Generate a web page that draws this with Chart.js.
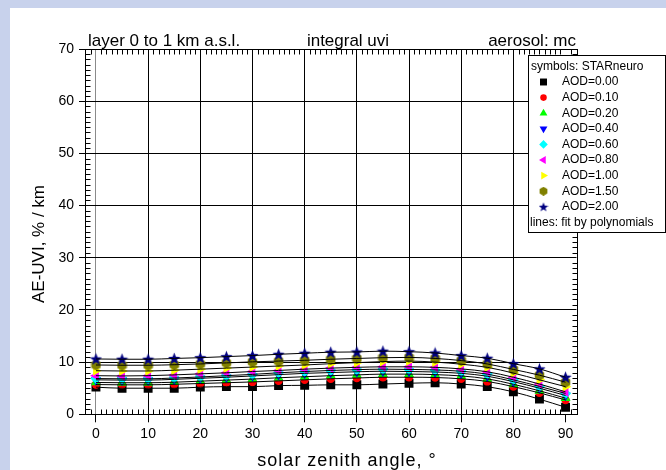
<!DOCTYPE html>
<html>
<head>
<meta charset="utf-8">
<script src="https://cdn.jsdelivr.net/npm/chart.js@4.4.0/dist/chart.umd.min.js"></script>
<style>
  html, body { margin: 0; padding: 0; background: #fff; }
  #wrap { width: 666px; height: 470px; }
</style>
</head>
<body>
<div id="wrap"><canvas id="uvi-chart" width="666" height="470"></canvas></div>
<script>
// solar zenith angle, degrees
const angles = [0, 5, 10, 15, 20, 25, 30, 35, 40, 45, 50, 55, 60, 65, 70, 75, 80, 85, 90];
const xTicks = [0, 10, 20, 30, 40, 50, 60, 70, 80, 90];
const yTicks = [0, 10, 20, 30, 40, 50, 60, 70];

// AE-UVI, % / km for each aerosol optical depth
const aod000 = [5.2, 5.0, 5.0, 5.0, 5.2, 5.3, 5.3, 5.5, 5.55, 5.65, 5.65, 5.8, 5.95, 6.05, 5.8, 5.3, 4.3, 2.9, 1.35];
const aod010 = [5.7, 5.65, 5.65, 5.75, 5.9, 6.05, 6.2, 6.4, 6.6, 6.8, 6.95, 7.1, 7.1, 7.05, 6.8, 6.3, 5.3, 4.1, 2.75];
const aod020 = [6.1, 6.05, 6.05, 6.15, 6.35, 6.55, 6.75, 7.0, 7.2, 7.4, 7.55, 7.7, 7.7, 7.6, 7.35, 6.8, 5.75, 4.5, 3.1];
const aod040 = [6.6, 6.55, 6.55, 6.7, 6.9, 7.1, 7.35, 7.6, 7.85, 8.0, 8.15, 8.25, 8.2, 8.1, 7.85, 7.3, 6.25, 5.0, 3.6];
const aod060 = [6.85, 6.8, 6.8, 6.95, 7.15, 7.4, 7.65, 7.95, 8.2, 8.4, 8.55, 8.65, 8.6, 8.5, 8.25, 7.7, 6.6, 5.35, 4.0];
const aod080 = [7.4, 7.35, 7.4, 7.55, 7.75, 7.95, 8.2, 8.4, 8.65, 8.85, 9.0, 9.1, 9.1, 9.0, 8.7, 8.15, 7.1, 5.8, 4.3];
const aod100 = [8.35, 8.3, 8.3, 8.45, 8.65, 8.85, 9.05, 9.25, 9.45, 9.7, 9.9, 10.1, 10.2, 10.0, 9.6, 9.0, 7.9, 6.6, 5.3];
const aod150 = [9.45, 9.4, 9.4, 9.5, 9.65, 9.85, 10.05, 10.2, 10.35, 10.55, 10.7, 10.85, 10.9, 10.7, 10.3, 9.65, 8.6, 7.5, 6.15];
const aod200 = [10.6, 10.55, 10.55, 10.7, 10.85, 11.05, 11.25, 11.5, 11.7, 11.9, 11.95, 12.1, 12.0, 11.75, 11.25, 10.75, 9.7, 8.7, 7.1];

const series = [aod000, aod010, aod020, aod040, aod060, aod080, aod100, aod150, aod200];
const labels = ['AOD=0.00', 'AOD=0.10', 'AOD=0.20', 'AOD=0.40', 'AOD=0.60', 'AOD=0.80', 'AOD=1.00', 'AOD=1.50', 'AOD=2.00'];

const FONT = 'Liberation Sans, Arial, sans-serif';

// hexagon and filled star are not built-in point styles
function makeHexagon(color, size) {
    const c = document.createElement('canvas');
    c.width = c.height = size;
    const g = c.getContext('2d');
    const r = size / 2;
    g.fillStyle = color;
    g.beginPath();
    for (let i = 0; i < 6; i++) {
        const a = Math.PI / 6 + i * Math.PI / 3;
        g.lineTo(r + Math.cos(a) * r, r + Math.sin(a) * r);
    }
    g.closePath();
    g.fill();
    return c;
}
function makeStar(color, size) {
    const c = document.createElement('canvas');
    c.width = c.height = size;
    const g = c.getContext('2d');
    const r = size / 2, ri = r * 0.42;
    g.fillStyle = color;
    g.beginPath();
    for (let i = 0; i < 10; i++) {
        const a = -Math.PI / 2 + i * Math.PI / 5;
        const rr = i % 2 ? ri : r;
        g.lineTo(r + Math.cos(a) * rr, r + 0.5 + Math.sin(a) * rr);
    }
    g.closePath();
    g.fill();
    return c;
}

const colors = ['#000000', '#ff0000', '#00ff00', '#0000ff', '#00ffff', '#ff00ff', '#ffff00', '#808000', '#000080'];
const styles = ['rect', 'circle', 'triangle', 'triangle', 'rectRot', 'triangle', 'triangle',
    makeHexagon('#808000', 11), makeStar('#000080', 13)];
const legendStyles = ['rect', 'circle', 'triangle', 'triangle', 'rectRot', 'triangle', 'triangle',
    makeHexagon('#808000', 9), makeStar('#000080', 10)];
const rotations = [0, 0, 0, 180, 0, -90, 90, 0, 0];
const radii = [6.3, 4.2, 5.8, 5.8, 5.5, 5.8, 5.8, 6, 7];

const points = s => angles.map((a, j) => ({ x: a, y: s[j] }));

const markerSets = series.map((s, i) => ({
    label: labels[i],
    data: points(s),
    showLine: false,
    pointStyle: styles[i],
    pointRotation: rotations[i],
    pointRadius: radii[i],
    pointBackgroundColor: colors[i],
    pointBorderColor: colors[i],
    pointBorderWidth: 0,
    order: 20 - i
}));
const fitSets = series.map(s => ({
    data: points(s),
    borderColor: '#000',
    borderWidth: 1,
    pointRadius: 0,
    cubicInterpolationMode: 'monotone',
    order: 0
}));

const framePlugin = {
    id: 'frame',
    beforeDraw(chart) {
        const c = chart.ctx;
        c.save();
        c.fillStyle = '#c8d2ec';
        c.fillRect(0, 0, chart.width, chart.height);
        c.fillStyle = '#fff';
        c.fillRect(10, 8, chart.width - 10, chart.height - 8);
        c.restore();
    },
    afterDraw(chart) {
        const c = chart.ctx, a = chart.chartArea;
        const xs = chart.scales.x, ys = chart.scales.y;
        const al = v => Math.round(v) + 0.5;
        const L = al(a.left), R = al(a.right), T = al(a.top), B = al(a.bottom);
        c.save();
        c.strokeStyle = '#000';
        c.lineWidth = 1;
        c.strokeRect(L, T, R - L, B - T);

        // minor ticks, pointing inwards on all four sides
        c.beginPath();
        for (let v = -1; v <= 91; v++) {
            if (v % 10 === 0) continue;
            const px = al(xs.getPixelForValue(v));
            c.moveTo(px, B); c.lineTo(px, B - 5);
            c.moveTo(px, T); c.lineTo(px, T + 5);
        }
        for (let v = 1; v < 70; v++) {
            if (v % 10 === 0) continue;
            const py = al(ys.getPixelForValue(v));
            c.moveTo(L, py); c.lineTo(L + 5, py);
            c.moveTo(R, py); c.lineTo(R - 5, py);
        }
        c.stroke();

        // legend box
        const bx = 528.5, by = 55.5, bw = 137, bh = 177;
        c.fillStyle = '#fff';
        c.fillRect(bx, by, bw, bh);
        c.strokeRect(bx, by, bw, bh);
        c.fillStyle = '#000';
        c.font = '12px ' + FONT;
        c.textBaseline = 'middle';
        c.textAlign = 'left';
        c.fillText('symbols: STARneuro', 531, 67);
        labels.forEach((t, i) => {
            const y = 82 + i * 15.6;
            c.fillStyle = colors[i];
            c.strokeStyle = colors[i];
            Chart.helpers.drawPoint(c, {
                pointStyle: legendStyles[i],
                rotation: rotations[i],
                radius: radii[i] * 0.78,
                borderWidth: 0
            }, 543.5, y);
            c.fillStyle = '#000';
            c.fillText(t, 562, y);
        });
        c.fillText('lines: fit by polynomials', 530, 223);

        // headers and axis titles
        c.font = '17px ' + FONT;
        c.textBaseline = 'alphabetic';
        c.textAlign = 'left';
        c.fillText('layer 0 to 1 km a.s.l.', 88, 46);
        c.textAlign = 'center';
        c.fillText('integral uvi', 348, 46);
        c.textAlign = 'right';
        c.fillText('aerosol: mc', 576, 46);

        c.textAlign = 'center';
        c.textBaseline = 'middle';
        c.font = '18px ' + FONT;
        c.letterSpacing = '1px';
        c.fillText('solar zenith angle, \u00b0', 347, 461);
        c.letterSpacing = '0px';
        c.font = '17px ' + FONT;
        c.translate(39, 244);
        c.rotate(-Math.PI / 2);
        c.fillText('AE-UVI, % / km', 0, 0);
        c.restore();
    }
};

const ctx = document.getElementById('uvi-chart');
const chart = new Chart(ctx, {
    type: 'line',
    data: { datasets: [...fitSets, ...markerSets] },
    options: {
        responsive: false,
        devicePixelRatio: 1,
        animation: false,
        events: [],
        layout: { padding: { left: 0, right: 89.5, top: 49, bottom: 0 } },
        plugins: {
            legend: { display: false },
            title: { display: false },
            tooltip: { enabled: false }
        },
        scales: {
            x: {
                type: 'linear',
                min: -2.1,
                max: 92.1,
                afterBuildTicks: s => { s.ticks = xTicks.map(v => ({ value: v })); },
                afterFit: s => { s.height = 55.7; },
                border: { display: true, color: '#000', width: 1 },
                grid: {
                    color: c => c.tick.value === 0 ? '#8a8a8a' : (c.tick.value === 90 ? 'rgba(0,0,0,0)' : '#000'),
                    tickColor: '#000',
                    tickLength: 8,
                    lineWidth: 1
                },
                ticks: { color: '#000', padding: 3, maxRotation: 0, font: { family: FONT, size: 14 } }
            },
            y: {
                min: 0,
                max: 70,
                afterBuildTicks: s => { s.ticks = yTicks.map(v => ({ value: v })); },
                afterFit: s => { s.width = 85; },
                border: { display: true, color: '#000', width: 1 },
                grid: { color: '#000', tickColor: '#000', tickLength: 6, lineWidth: 1 },
                ticks: { color: '#000', padding: 5, font: { family: FONT, size: 14 } }
            }
        }
    },
    plugins: [framePlugin]
});
</script>
</body>
</html>
